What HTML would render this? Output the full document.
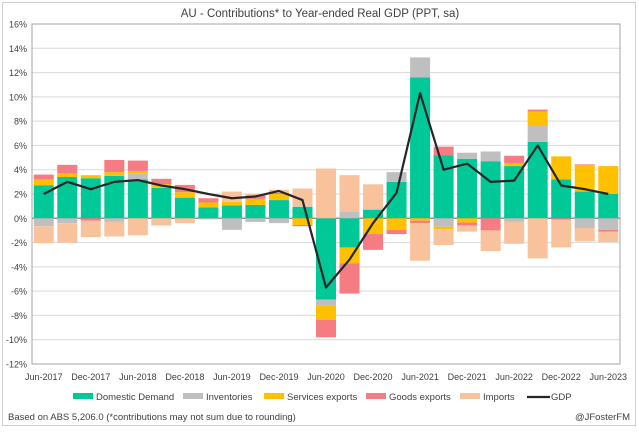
<!DOCTYPE html>
<html><head><meta charset="utf-8"><style>
body{margin:0;background:#fff;font-family:"Liberation Sans",sans-serif}
svg text{font-family:"Liberation Sans",sans-serif;fill:#404040}
</style></head><body>
<svg id="chart" width="639" height="428" viewBox="0 0 639 428">
<rect x="2.5" y="2.5" width="633" height="423" fill="#fff" stroke="#d0d0d0"/>
<text x="320" y="17" font-size="11.5" text-anchor="middle" fill="#404040">AU - Contributions* to Year-ended Real GDP (PPT, sa)</text>
<g id="grid"></g><g id="bars"></g><g id="line"></g><g id="axes"></g>
<g id="legend"></g>
<text x="8" y="420" font-size="9.5">Based on ABS 5,206.0 (*contributions may not sum due to rounding)</text>
<text x="630" y="420" font-size="9.5" text-anchor="end">@JFosterFM</text>
</svg>
<script>
const categories=["Jun-2017","Sep-2017","Dec-2017","Mar-2018","Jun-2018","Sep-2018","Dec-2018","Mar-2019","Jun-2019","Sep-2019","Dec-2019","Mar-2020","Jun-2020","Sep-2020","Dec-2020","Mar-2021","Jun-2021","Sep-2021","Dec-2021","Mar-2022","Jun-2022","Sep-2022","Dec-2022","Mar-2023","Jun-2023"];
const domesticDemand=[2.7,3.4,3.3,3.5,3.2,2.5,1.7,0.9,1.05,1.1,1.5,0.95,-6.7,-2.4,0.7,3.0,11.6,5.2,4.9,4.7,4.3,6.3,3.2,2.2,2.0];
const inventories=[-0.65,-0.4,0,-0.3,0.5,0,0,-0.05,-0.95,-0.3,-0.4,0,-0.45,0.55,0.1,0.8,1.65,-0.7,0.5,0.8,-0.3,1.3,0,-0.8,-0.95];
const servicesExports=[0.5,0.3,0.25,0.3,0.2,0.3,0.45,0.4,0.3,0.5,0.5,-0.55,-1.2,-1.3,-1.3,-0.95,-0.2,-0.2,-0.35,0,0.25,1.2,1.9,2.2,2.3];
const goodsExports=[0.4,0.7,-0.2,1.0,0.85,0.45,0.6,0.35,0,0.3,0.1,-0.1,-1.45,-2.5,-1.3,-0.35,-0.2,0.7,-0.25,-1.0,0.6,0.15,-0.1,0.05,-0.15];
const imports=[-1.4,-1.6,-1.35,-1.2,-1.4,-0.6,-0.4,-0.05,0.85,0.1,0.25,1.5,4.1,3.0,2.0,0,-3.1,-1.3,-0.5,-1.7,-1.8,-3.3,-2.3,-1.1,-0.85];
const gdp=[2.0,3.0,2.4,3.0,3.15,2.7,2.4,2.0,1.65,1.8,2.25,1.5,-5.7,-3.4,-0.4,2.1,10.3,4.0,4.5,3.0,3.1,6.0,2.7,2.4,2.0];
const yTicks=[16,14,12,10,8,6,4,2,0,-2,-4,-6,-8,-10,-12];
const seriesNames=["Domestic Demand","Inventories","Services exports","Goods exports","Imports"];
const seriesColors=["#00C896","#BFBFBF","#FFC000","#F47C82","#F8C39C"];
const series=[domesticDemand,inventories,servicesExports,goodsExports,imports];

const NS="http://www.w3.org/2000/svg";
const L=32,R=620,T=24,B=364,yMin=-12,yMax=16;
const band=(R-L)/categories.length,bw=20;
const y=v=>T+(yMax-v)/(yMax-yMin)*(B-T);
const xc=i=>L+(i+0.5)*band;
function mk(tag,attrs,parent){const e=document.createElementNS(NS,tag);for(const k in attrs)e.setAttribute(k,attrs[k]);document.getElementById(parent).appendChild(e);return e;}

yTicks.forEach(t=>{
  const g=mk("line",{x1:L,x2:R,y1:y(t),y2:y(t),stroke:t===0?"#808080":"#d9d9d9","stroke-width":t===0?1.2:1},"grid");
  
  
  const tx=mk("text",{x:L-5,y:y(t)+3.5,"font-size":9,"text-anchor":"end"},"axes");
  tx.textContent=t+"%";
  
  
});
const frame=mk("rect",{x:L,y:T,width:R-L,height:B-T,fill:"none",stroke:"#a6a6a6"},"axes");



categories.forEach((c,i)=>{
  let pos=0,neg=0;
  series.forEach((s,k)=>{
    const v=s[i];if(!v)return;
    let y0,y1;
    if(v>0){y0=pos;y1=pos+v;pos=y1;}else{y0=neg;y1=neg+v;neg=y1;}
    const r=mk("rect",{x:xc(i)-bw/2,y:Math.min(y(y0),y(y1)),width:bw,height:Math.abs(y(y0)-y(y1)),fill:seriesColors[k]},"bars");
    
    
  });
  if(i%2===0){
    const tx=mk("text",{x:xc(i),y:380,"font-size":9,"text-anchor":"middle"},"axes");
    tx.textContent=c;
    
    
  }
});
const pl=mk("polyline",{points:gdp.map((v,i)=>xc(i)+","+y(v)).join(" "),fill:"none",stroke:"#262626","stroke-width":2.2,"stroke-linejoin":"round"},"line");



const legX=[73,183,264,366,460];
seriesNames.forEach((n,k)=>{
  const s=mk("rect",{x:legX[k],y:393,width:20,height:6,fill:seriesColors[k]},"legend");
  
  
  const t=mk("text",{x:legX[k]+23,y:400,"font-size":9.5},"legend");
  t.textContent=n;
  
  
});
const gl=mk("line",{x1:527,x2:550,y1:397,y2:397,stroke:"#262626","stroke-width":2.2},"legend");


const gt=mk("text",{x:551,y:400,"font-size":9.5},"legend");
gt.textContent="GDP";


</script>
</body></html>
